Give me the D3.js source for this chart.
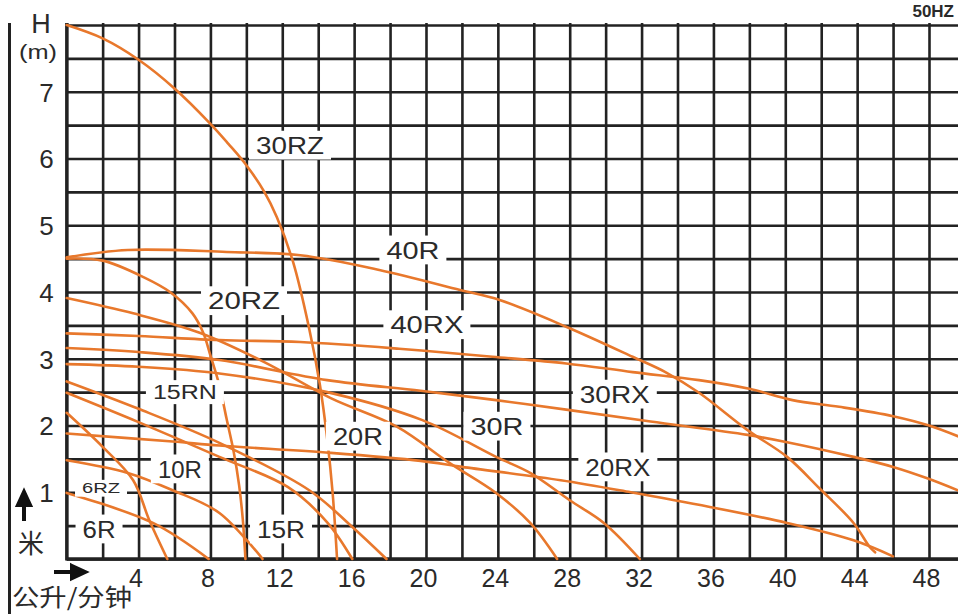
<!DOCTYPE html>
<html>
<head>
<meta charset="utf-8">
<script src="https://cdn.jsdelivr.net/npm/d3@7"></script>
<style>
  body { margin: 0; background: #fff; }
  svg { display: block; font-family: "Liberation Sans", Arial, sans-serif; }
</style>
</head>
<body>
<div id="app"></div>
<script>
// Pump curves, 50Hz: [flow L/min, head m]
const c30RZ = [[0, 8.0], [2, 7.8], [4, 7.48], [6, 7.05], [8, 6.52], [9, 6.22], [10, 5.9], [11, 5.5], [11.7, 5.12], [12.6, 4.45], [13.5, 3.45], [14.1, 2.6], [14.5, 1.8], [14.8, 1.0], [15.05, 0]];
const c20RZ = [[0, 4.5], [2, 4.47], [4.3, 4.22], [5.75, 4.0], [7.0, 3.68], [7.6, 3.39], [8.0, 3.05], [8.5, 2.6], [8.9, 2.1], [9.3, 1.6], [9.6, 1.1], [9.8, 0.6], [9.95, 0]];
const c40R = [[0, 4.52], [3.4, 4.63], [8.9, 4.6], [13, 4.55], [17.4, 4.33], [21.9, 4.03], [24.1, 3.88], [27.8, 3.48], [31.5, 3.03], [33.4, 2.79], [35.2, 2.49], [37.9, 1.93], [40.1, 1.53], [41.9, 1.06], [43.8, 0.54], [44.7, 0.18], [45, 0.1]];
const c40RX = [[0, 3.38], [4, 3.34], [8.5, 3.28], [13, 3.25], [18.5, 3.15], [23.7, 3.03], [27.8, 2.93], [31.5, 2.8], [35.2, 2.68], [38, 2.55], [40.4, 2.38], [43, 2.28], [46, 2.14], [48, 2.0], [49.7, 1.83]];
const c30RX = [[0, 3.16], [4, 3.1], [8.5, 2.98], [14.5, 2.68], [19.7, 2.52], [23.9, 2.38], [28, 2.23], [32.5, 2.06], [37.9, 1.86], [40.1, 1.75], [43.8, 1.53], [46, 1.38], [47.9, 1.21], [49.7, 1.02]];
const c30R = [[0, 2.92], [4, 2.88], [8.5, 2.78], [14.5, 2.5], [19.8, 2.08], [23.9, 1.53], [25.8, 1.29], [28, 0.88], [29.9, 0.54], [31.9, 0]];
const c20R = [[0, 3.91], [3.7, 3.68], [7.4, 3.39], [11, 2.95], [14.7, 2.41], [18.4, 1.98], [21.3, 1.44], [23.9, 0.99], [25.8, 0.54], [27.3, 0]];
const c15RN = [[0, 2.66], [4, 2.25], [8.5, 1.74], [13.5, 1.03], [15.9, 0.48], [17.8, 0]];
const c15R = [[0, 2.49], [4, 2.05], [8.5, 1.53], [12.3, 1.08], [14.5, 0.55], [15.9, 0]];
const c20RX = [[0, 1.88], [5.9, 1.76], [8.5, 1.7], [14.7, 1.59], [19.7, 1.47], [22, 1.38], [27.5, 1.18], [31.4, 1.0], [35.8, 0.78], [40.1, 0.54], [43.8, 0.28], [46, 0.04]];
const c10R = [[0, 1.48], [3.4, 1.29], [5.9, 1.03], [8.5, 0.69], [10.9, 0]];
const c6R = [[0, 0.99], [4.8, 0.54], [7.9, 0]];
const c6RZ = [[0, 2.19], [2, 1.68], [3.7, 1.18], [4.6, 0.58], [5.6, 0]];

const curves = [c30RZ, c20RZ, c40R, c40RX, c30RX, c30R, c20R, c15RN, c15R, c20RX, c10R, c6R, c6RZ];

// model names and where they sit (flow, head)
const labelNames = ["30RZ", "40R", "20RZ", "40RX", "15RN", "30RX", "20R", "30R", "20RX", "10R", "6RZ", "6R", "15R"];
const labelFlow = [12.43, 19.27, 9.87, 20.05, 6.58, 30.51, 16.21, 23.95, 30.68, 6.3, 1.91, 1.8, 11.93];
const labelHead = [6.2, 4.63, 3.87, 3.51, 2.5, 2.47, 1.84, 1.99, 1.38, 1.35, 1.06, 0.45, 0.45];

const xTicks = [4, 8, 12, 16, 20, 24, 28, 32, 36, 40, 44, 48];
const yTicks = [1, 2, 3, 4, 5, 6, 7];

// label look: text width in px and font size
const labelWidth = [68, 53, 72, 73, 64, 70, 50, 53, 65, 44, 38, 33, 48];
const labelSize = [24, 24, 24, 24, 20, 24, 24, 24, 24, 24, 14, 24, 24];

const width = 958;
const height = 614;
const plotLeft = 66.7, plotRight = 958, plotTop = 25, plotBottom = 559;
const ink = "#222";
const textInk = "#2a2a2a";
const orange = "#e8782c";

const x = d3.scaleLinear().domain([0, 48]).range([plotLeft, 929]);
const y = d3.scaleLinear().domain([0, 8]).range([plotBottom, plotTop]);

const svg = d3.select("#app").append("svg")
  .attr("width", width)
  .attr("height", height);

// grid
const gx = svg.append("g")
  .attr("transform", `translate(0, ${plotBottom})`)
  .call(d3.axisBottom(x).tickValues(d3.range(0, 49, 2)).tickSize(-(plotBottom - plotTop + 2)).tickFormat(""));
gx.select(".domain").remove();
gx.selectAll("line").attr("stroke", ink).attr("stroke-width", 2.6);

const gy = svg.append("g")
  .attr("transform", `translate(${plotLeft}, 0)`)
  .call(d3.axisLeft(y).tickValues(d3.range(0, 8.01, 0.5)).tickSize(-(plotRight - plotLeft)).tickFormat(""));
gy.select(".domain").remove();
gy.selectAll("line").attr("stroke", ink).attr("stroke-width", 2.6);

// heavier frame lines
svg.append("line").attr("x1", plotLeft).attr("x2", plotRight).attr("y1", plotBottom).attr("y2", plotBottom)
  .attr("stroke", ink).attr("stroke-width", 3.4);
svg.append("line").attr("x1", plotLeft).attr("x2", plotLeft).attr("y1", plotTop - 2).attr("y2", plotBottom + 1.5)
  .attr("stroke", ink).attr("stroke-width", 3.2);
svg.append("line").attr("x1", 9.5).attr("x2", 9.5).attr("y1", 23).attr("y2", height)
  .attr("stroke", ink).attr("stroke-width", 3);

// curves
const line = d3.line()
  .x((d) => x(d[0]))
  .y((d) => y(d[1]))
  .curve(d3.curveCatmullRom.alpha(0.5));

svg.append("g")
  .selectAll("path")
  .data(curves)
  .enter()
  .append("path")
  .attr("d", line)
  .attr("fill", "none")
  .attr("stroke", orange)
  .attr("stroke-width", 2.6)
  .attr("stroke-linecap", "round");

// model labels on white patches
const labels = svg.append("g")
  .selectAll("g")
  .data(labelNames)
  .enter()
  .append("g")
  .attr("transform", (d, i) => `translate(${x(labelFlow[i])}, ${y(labelHead[i])})`);

labels.append("rect")
  .attr("x", (d, i) => -labelWidth[i] / 2 - 7)
  .attr("y", (d, i) => -labelSize[i] * 0.6)
  .attr("width", (d, i) => labelWidth[i] + 14)
  .attr("height", (d, i) => labelSize[i] * 1.2)
  .attr("fill", "#fff");

labels.append("text")
  .text((d) => d)
  .attr("text-anchor", "middle")
  .attr("dy", "0.36em")
  .attr("font-size", (d, i) => labelSize[i])
  .attr("textLength", (d, i) => labelWidth[i])
  .attr("lengthAdjust", "spacingAndGlyphs")
  .attr("fill", textInk);

// axis numbers
const ax = svg.append("g")
  .attr("transform", `translate(-3, ${plotBottom})`)
  .call(d3.axisBottom(x).tickValues(xTicks).tickSize(0).tickPadding(10));
ax.select(".domain").remove();
ax.selectAll("text").attr("font-size", 25).attr("fill", textInk)
  .attr("font-family", "\"Liberation Sans\", Arial, sans-serif");

const ay = svg.append("g")
  .attr("transform", `translate(${plotLeft}, 1)`)
  .call(d3.axisLeft(y).tickValues(yTicks).tickSize(0).tickPadding(13));
ay.select(".domain").remove();
ay.selectAll("text").attr("font-size", 26).attr("fill", textInk)
  .attr("font-family", "\"Liberation Sans\", Arial, sans-serif");

// axis titles
svg.append("text").text("H").attr("x", 41).attr("y", 33)
  .attr("text-anchor", "middle").attr("font-size", 27).attr("fill", textInk);
svg.append("text").text("(m)").attr("x", 38).attr("y", 59)
  .attr("text-anchor", "middle").attr("font-size", 21)
  .attr("textLength", 38).attr("lengthAdjust", "spacingAndGlyphs").attr("fill", textInk);

// arrows
svg.append("path")
  .attr("d", "M24,521 L24,503 M18,505 L24,492 L30,505 Z")
  .attr("stroke", "#111").attr("stroke-width", 4).attr("fill", "#111");
svg.append("path")
  .attr("d", "M54,572 L74,572 M72,566 L85,572 L72,578 Z")
  .attr("stroke", "#111").attr("stroke-width", 4).attr("fill", "#111");

svg.append("text").text("米").attr("x", 31).attr("y", 553)
  .attr("text-anchor", "middle").attr("font-size", 26).attr("fill", textInk)
  .attr("font-family", "\"Noto Sans CJK SC\"");
svg.append("text").text("公升/分钟").attr("x", 12).attr("y", 606)
  .attr("font-size", 24).attr("textLength", 120).attr("lengthAdjust", "spacingAndGlyphs")
  .attr("fill", textInk).attr("font-family", "\"Noto Sans CJK SC\"");

svg.append("text").text("50HZ").attr("x", 954).attr("y", 17)
  .attr("text-anchor", "end")
  .attr("font-size", 17).attr("font-weight", "bold").attr("fill", textInk);
</script>
</body>
</html>
